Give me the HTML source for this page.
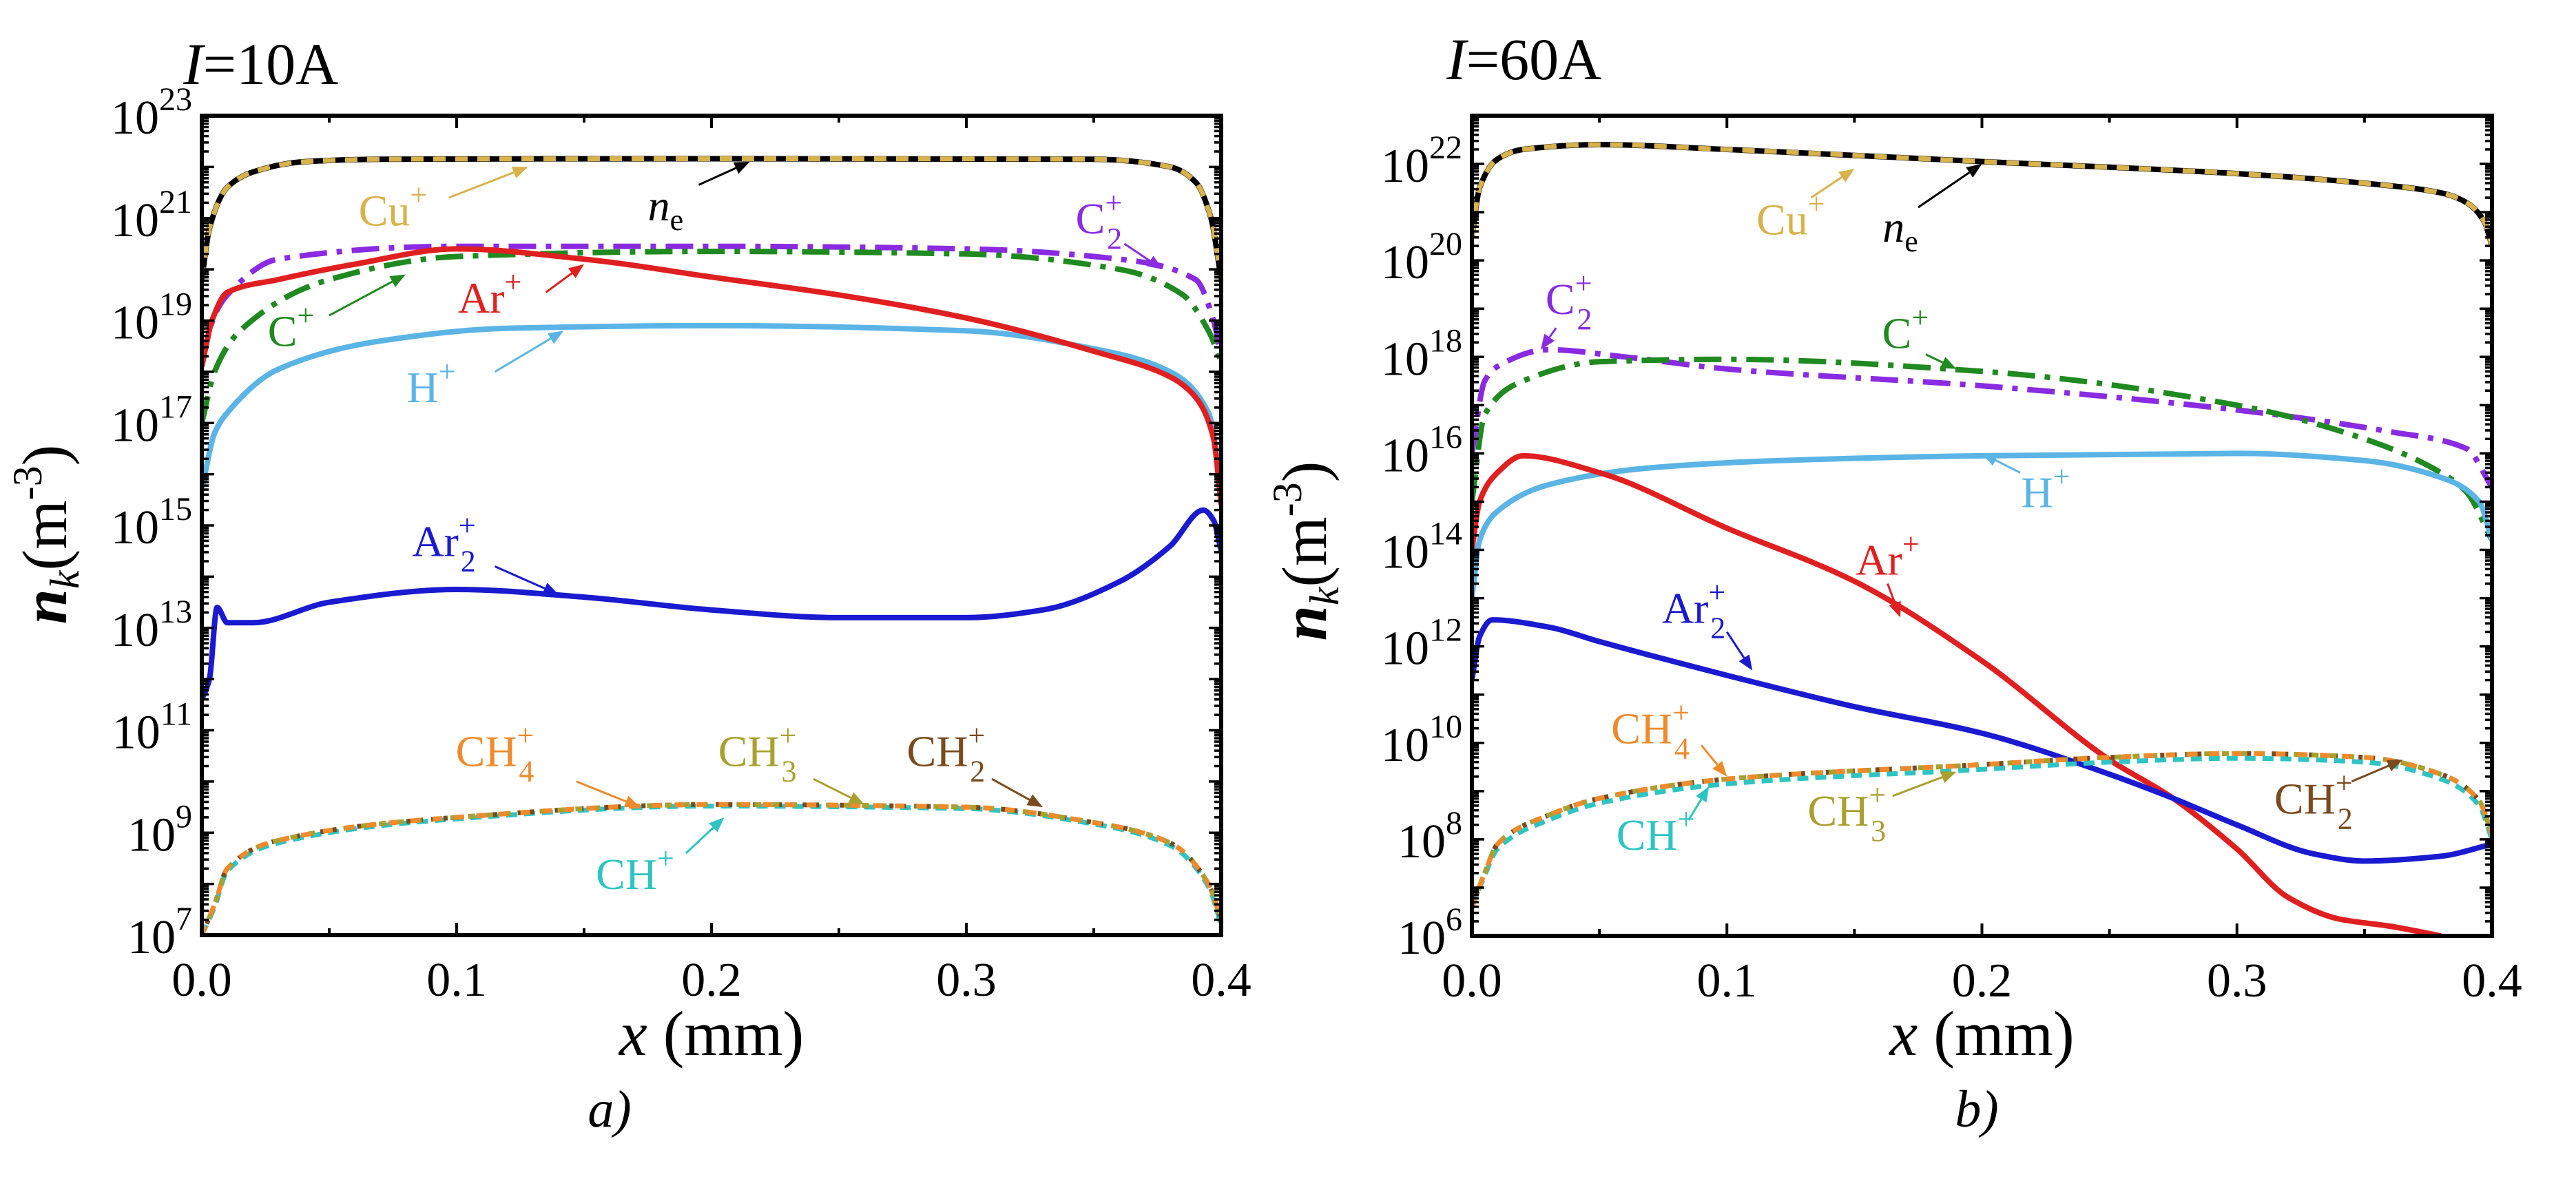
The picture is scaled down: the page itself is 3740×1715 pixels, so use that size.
<!DOCTYPE html>
<html><head><meta charset="utf-8">
<style>
html,body{margin:0;padding:0;background:#fff;}
svg{display:block;}
text{font-family:"Liberation Serif","DejaVu Serif",serif;}
</style></head>
<body>
<svg id="fig" width="3740" height="1715" viewBox="0 0 3740 1715" xmlns="http://www.w3.org/2000/svg">
<rect width="3740" height="1715" fill="#fff"/>
</svg>
<script>
// ---------- Panel a (I=10A) data: x in mm, values as log10(n) ----------
const a_ne_x   = [0,0.003,0.01,0.02,0.04,0.07,0.2,0.35,0.38,0.39,0.396,0.4];
const a_ne_y   = [19.8,20.8,21.6,21.9,22.1,22.15,22.16,22.15,22.0,21.7,21.0,19.8];
const a_c2_x   = [0,0.005,0.01,0.03,0.1,0.2,0.3,0.36,0.39,0.397,0.4];
const a_c2_y   = [18.2,19.1,19.5,20.2,20.45,20.45,20.4,20.2,19.8,19.0,18.3];
const a_c_x    = [0,0.005,0.015,0.05,0.1,0.2,0.3,0.36,0.385,0.395,0.4];
const a_c_y    = [17.0,18.0,18.8,19.8,20.25,20.35,20.3,20.0,19.5,18.8,18.2];
const a_ar_x   = [0,0.004,0.01,0.03,0.06,0.1,0.15,0.2,0.25,0.3,0.35,0.38,0.39,0.397,0.4];
const a_ar_y   = [18.1,19.0,19.55,19.8,20.1,20.4,20.2,19.85,19.5,19.05,18.4,17.9,17.5,16.7,15.4];
const a_h_x    = [0,0.005,0.01,0.03,0.07,0.12,0.2,0.3,0.35,0.38,0.395,0.4];
const a_h_y    = [15.7,16.8,17.2,18.05,18.6,18.85,18.9,18.8,18.45,18.0,17.2,15.9];
const a_ar2_x  = [0,0.003,0.006,0.01,0.02,0.05,0.1,0.15,0.2,0.25,0.3,0.33,0.36,0.38,0.393,0.397,0.4];
const a_ar2_y  = [11.6,12.0,13.4,13.1,13.1,13.5,13.75,13.6,13.35,13.2,13.2,13.35,13.9,14.6,15.3,15.1,14.5];
const a_ch_x   = [0,0.005,0.01,0.03,0.1,0.2,0.3,0.35,0.38,0.395,0.4];
const a_ch4_y  = [7.0,7.6,8.3,8.85,9.3,9.55,9.5,9.2,8.8,8.0,7.3];
const a_ch3_y  = [7.0,7.6,8.3,8.85,9.3,9.55,9.5,9.2,8.8,8.0,7.3];
const a_ch2_y  = [7.0,7.6,8.3,8.85,9.3,9.55,9.5,9.2,8.8,8.0,7.3];
const a_ch1_y  = [7.0,7.55,8.25,8.8,9.27,9.52,9.47,9.17,8.75,7.95,7.2];
// ---------- Panel b (I=60A) ----------
const b_ne_x   = [0,0.003,0.01,0.02,0.05,0.1,0.2,0.3,0.35,0.38,0.39,0.397,0.4];
const b_ne_y   = [20.5,21.5,22.1,22.3,22.4,22.3,22.05,21.8,21.6,21.4,21.2,20.8,20.3];
const b_c2_x   = [0,0.005,0.01,0.03,0.06,0.1,0.2,0.3,0.36,0.39,0.4];
const b_c2_y   = [16.0,17.5,17.8,18.15,18.0,17.75,17.4,16.9,16.45,16.1,15.3];
const b_c_x    = [0,0.005,0.02,0.05,0.1,0.2,0.3,0.35,0.38,0.39,0.4];
const b_c_y    = [15.0,16.8,17.5,17.9,17.95,17.7,17.0,16.3,15.6,15.2,14.2];
const b_ar_x   = [0,0.003,0.01,0.02,0.05,0.1,0.15,0.2,0.25,0.275,0.3,0.32,0.34,0.36,0.38];
const b_ar_y   = [14.0,15.0,15.6,15.95,15.6,14.45,13.35,11.7,9.65,8.85,7.8,6.8,6.35,6.2,6.0];
const b_h_x    = [0,0.003,0.01,0.03,0.07,0.12,0.2,0.3,0.35,0.38,0.395,0.4];
const b_h_y    = [13.0,14.2,14.8,15.35,15.7,15.85,15.95,16.0,15.85,15.5,15.0,14.2];
const b_ar2_x  = [0,0.003,0.008,0.03,0.05,0.1,0.15,0.2,0.25,0.275,0.3,0.33,0.35,0.38,0.4];
const b_ar2_y  = [11.3,12.2,12.55,12.4,12.1,11.4,10.75,10.2,9.35,8.85,8.3,7.7,7.55,7.65,7.9];
const b_ch_x   = [0,0.005,0.01,0.03,0.05,0.1,0.2,0.25,0.3,0.35,0.38,0.395,0.4];
const b_ch4_y  = [6.6,7.3,7.9,8.5,8.85,9.25,9.55,9.7,9.78,9.7,9.35,8.8,8.1];
const b_ch3_y  = [6.6,7.3,7.9,8.5,8.85,9.25,9.55,9.7,9.78,9.7,9.35,8.8,8.1];
const b_ch2_y  = [6.6,7.3,7.9,8.5,8.85,9.25,9.55,9.7,9.78,9.7,9.35,8.8,8.1];
const b_ch1_y  = [6.6,7.25,7.8,8.4,8.75,9.15,9.45,9.6,9.68,9.6,9.25,8.7,8.0];
// ticks
const xTickVals = [0.0,0.1,0.2,0.3,0.4];
const xTickLabels = ["0.0","0.1","0.2","0.3","0.4"];
const a_yLabelExps = [7,9,11,13,15,17,19,21,23];
const b_yLabelExps = [6,8,10,12,14,16,18,20,22];

const NS="http://www.w3.org/2000/svg";
const svg=document.getElementById('fig');
function el(tag,attrs,parent){const e=document.createElementNS(NS,tag);for(const k in attrs)e.setAttribute(k,attrs[k]);(parent||svg).appendChild(e);return e;}

const C={ne:'#000000',cu:'#d8b24a',c2:'#8a2be2',c:'#1f8a1f',ar:'#e02020',h:'#5bb4e6',ar2:'#1a1ad0',
 ch4:'#f08a2a',ch3:'#aaa030',ch2:'#7a4a1e',ch1:'#2ec4c4'};

function makePanel(id,L,R,T,B,ymin,ymax){
  const p={L,R,T,B,ymin,ymax};
  p.sx=x=>L+(x/0.4)*(R-L);
  p.sy=v=>B-(v-ymin)/(ymax-ymin)*(B-T);
  const g=el('g',{});
  
  
  p.g=g;
  const cp=el('clipPath',{id:'clip-'+id},g);
  el('rect',{x:L,y:T,width:R-L,height:B-T},cp);
  p.clip='url(#clip-'+id+')';
  return p;
}
function ticks(p,labelExps){
  const g=el('g',{},p.g);
  
  
  for(let i=0;i<=8;i++){
    const xv=i*0.05, X=p.sx(xv), len=(i%2==0)?18:10;
    el('line',{x1:X,y1:p.B,x2:X,y2:p.B-len,stroke:'#000','stroke-width':4},g);
    el('line',{x1:X,y1:p.T,x2:X,y2:p.T+len,stroke:'#000','stroke-width':4},g);
  }
  for(let d=p.ymin;d<p.ymax;d++){
    for(let m=1;m<=9;m++){
      const v=d+Math.log10(m); const Y=p.sy(v); const len=(m==1)?18:10;
      el('line',{x1:p.L,y1:Y,x2:p.L+len,y2:Y,stroke:'#000','stroke-width':3.5},g);
      el('line',{x1:p.R,y1:Y,x2:p.R-len,y2:Y,stroke:'#000','stroke-width':3.5},g);
    }
  }
  xTickVals.forEach((xv,i)=>{
    const t=el('text',{x:p.sx(xv),y:p.B+88,'font-size':70,'text-anchor':'middle',fill:'#000'},g);
    t.textContent=xTickLabels[i];
    
    
  });
  labelExps.forEach(e=>{
    const Y=p.sy(e);
    const t=el('text',{x:p.L-14,y:Y+26,'font-size':70,'text-anchor':'end',fill:'#000'},g);
    t.innerHTML='10<tspan font-size="48" dy="-34">'+e+'</tspan>';
    
    
  });
  el('rect',{x:p.L,y:p.T,width:p.R-p.L,height:p.B-p.T,fill:'none',stroke:'#000','stroke-width':6},g);
}
// monotone cubic (Fritsch–Carlson) path through screen points
function monoPath(P){
  const n=P.length; if(n<2)return '';
  const dx=[],dy=[],m=[];
  for(let i=0;i<n-1;i++){dx.push(P[i+1][0]-P[i][0]);dy.push(P[i+1][1]-P[i][1]);m.push(dy[i]/dx[i]);}
  const t=[m[0]];
  for(let i=1;i<n-1;i++){ if(m[i-1]*m[i]<=0)t.push(0); else {const w1=2*dx[i]+dx[i-1],w2=dx[i]+2*dx[i-1];t.push((w1+w2)/(w1/m[i-1]+w2/m[i]));}}
  t.push(m[n-2]);
  let d='M'+P[0][0].toFixed(1)+','+P[0][1].toFixed(1);
  for(let i=0;i<n-1;i++){
    const h=dx[i]/3;
    d+=' C'+(P[i][0]+h).toFixed(1)+','+(P[i][1]+t[i]*h).toFixed(1)+' '+(P[i+1][0]-h).toFixed(1)+','+(P[i+1][1]-t[i+1]*h).toFixed(1)+' '+P[i+1][0].toFixed(1)+','+P[i+1][1].toFixed(1);
  }
  return d;
}
function series(p,name,xs,ys,color,dash,width){
  const P=xs.map((x,i)=>[p.sx(x),p.sy(ys[i])]);
  const a={d:monoPath(P),fill:'none',stroke:color,'stroke-width':width||8,'stroke-linejoin':'round','clip-path':p.clip};
  if(dash)a['stroke-dasharray']=dash;
  const l=el('path',a,p.g);
  
  
  return l;
}
function label(p,name,x,v,main,sub,sup,color,ax1,av1,ax2,av2){
  const t=el('text',{x:p.sx(x),y:p.sy(v)+22,'font-size':64,'text-anchor':'middle',fill:color},p.g);
  let h=main;
  if(sup) h+='<tspan font-size="44" dy="-30">'+sup+'</tspan>';
  if(sub) h+='<tspan font-size="44" dx="-22" dy="52">'+sub+'</tspan>';
  t.innerHTML=h;
  
  
  const X1=p.sx(ax1),Y1=p.sy(av1),X2=p.sx(ax2),Y2=p.sy(av2);
  const ang=Math.atan2(Y2-Y1,X2-X1),hl=22,hw=9;
  const bx=X2-hl*Math.cos(ang),by=Y2-hl*Math.sin(ang);
  const ln=el('line',{x1:X1,y1:Y1,x2:bx,y2:by,stroke:color,'stroke-width':3},p.g);
  
  
  const hd=el('polygon',{points:`${X2},${Y2} ${bx+hw*Math.sin(ang)},${by-hw*Math.cos(ang)} ${bx-hw*Math.sin(ang)},${by+hw*Math.cos(ang)}`,fill:color},p.g);
  
  
}
function texts(p,title,tx,ty,ylx,yly,tag,tgx){
  const g=p.g;
  const t=el('text',{x:tx,y:ty,'font-size':86,fill:'#000'},g);
  t.innerHTML='<tspan font-style="italic">I</tspan>='+title;
  
  
  const yt=el('text',{x:0,y:0,'font-size':92,'text-anchor':'middle',fill:'#000',transform:`translate(${ylx},${yly}) rotate(-90)`},g);
  yt.innerHTML='<tspan font-style="italic" font-weight="bold">n</tspan><tspan font-style="italic" font-size="60" dy="18">k</tspan><tspan dy="-18">(m</tspan><tspan font-size="60" dy="-36">-3</tspan><tspan dy="36">)</tspan>';
  
  
  const xt=el('text',{x:(p.L+p.R)/2,y:1532,'font-size':92,'text-anchor':'middle',fill:'#000'},g);
  xt.innerHTML='<tspan font-style="italic">x</tspan> (mm)';
  
  
  const tg=el('text',{x:tgx,y:1636,'font-size':76,'font-style':'italic','text-anchor':'middle',fill:'#000'},g);
  tg.textContent=tag;
  
  
}

// ---- Panel a
const pa=makePanel('panel-a-10A',293,1773,168,1358,7,23);
series(pa,'c2-plus-line',a_c2_x,a_c2_y,C.c2,'40 14 8 14');
series(pa,'c-plus-line',a_c_x,a_c_y,C.c,'40 14 8 14');
series(pa,'h-plus-line',a_h_x,a_h_y,C.h);
series(pa,'ar-plus-line',a_ar_x,a_ar_y,C.ar);
series(pa,'ar2-plus-line',a_ar2_x,a_ar2_y,C.ar2);
series(pa,'ne-line',a_ne_x,a_ne_y,C.ne);
series(pa,'cu-plus-line',a_ne_x,a_ne_y,C.cu,'18 14',7);
series(pa,'ch-plus-line',a_ch_x,a_ch1_y,C.ch1,'16 10',7);
series(pa,'ch2-plus-line',a_ch_x,a_ch2_y,C.ch2,'6 12',7);
series(pa,'ch3-plus-line',a_ch_x,a_ch3_y,C.ch3,'10 16',7);
series(pa,'ch4-plus-line',a_ch_x,a_ch4_y,C.ch4,'14 18',7);
ticks(pa,a_yLabelExps);
label(pa,'cu-plus',0.075,21.15,'Cu','', '+',C.cu,0.097,21.4,0.128,22.0);
label(pa,'ne',0.182,21.25,'<tspan font-style="italic">n</tspan><tspan font-size="44" dy="14">e</tspan>','','',C.ne,0.195,21.65,0.215,22.1);
label(pa,'c2-plus',0.352,21.0,'C','2','+',C.c2,0.362,20.5,0.377,20.0);
label(pa,'ar-plus',0.113,19.45,'Ar','','+',C.ar,0.135,19.55,0.15,20.1);
label(pa,'c-plus',0.035,18.8,'C','','+',C.c,0.05,19.1,0.08,19.9);
label(pa,'h-plus',0.09,17.7,'H','','+',C.h,0.115,18.0,0.142,18.8);
label(pa,'ar2-plus',0.095,14.7,'Ar','2','+',C.ar2,0.115,14.2,0.14,13.65);
label(pa,'ch4-plus',0.115,10.6,'CH','4','+',C.ch4,0.147,10.0,0.172,9.5);
label(pa,'ch3-plus',0.218,10.6,'CH','3','+',C.ch3,0.24,10.05,0.26,9.55);
label(pa,'ch2-plus',0.292,10.6,'CH','2','+',C.ch2,0.31,10.05,0.33,9.5);
label(pa,'ch-plus',0.17,8.2,'CH','','+',C.ch1,0.19,8.6,0.205,9.3);
texts(pa,'10A',266,122,96,776,'a)',885);

// ---- Panel b
const pb=makePanel('panel-b-60A',2137,3618,168,1359,6,23);
series(pb,'c2-plus-line',b_c2_x,b_c2_y,C.c2,'40 14 8 14');
series(pb,'c-plus-line',b_c_x,b_c_y,C.c,'40 14 8 14');
series(pb,'h-plus-line',b_h_x,b_h_y,C.h);
series(pb,'ar-plus-line',b_ar_x,b_ar_y,C.ar);
series(pb,'ar2-plus-line',b_ar2_x,b_ar2_y,C.ar2);
series(pb,'ne-line',b_ne_x,b_ne_y,C.ne);
series(pb,'cu-plus-line',b_ne_x,b_ne_y,C.cu,'18 14',7);
series(pb,'ch-plus-line',b_ch_x,b_ch1_y,C.ch1,'16 10',7);
series(pb,'ch2-plus-line',b_ch_x,b_ch2_y,C.ch2,'6 12',7);
series(pb,'ch3-plus-line',b_ch_x,b_ch3_y,C.ch3,'10 16',7);
series(pb,'ch4-plus-line',b_ch_x,b_ch4_y,C.ch4,'14 18',7);
ticks(pb,b_yLabelExps);
label(pb,'cu-plus',0.125,20.85,'Cu','','+',C.cu,0.133,21.3,0.15,21.9);
label(pb,'ne',0.168,20.7,'<tspan font-style="italic">n</tspan><tspan font-size="44" dy="14">e</tspan>','','',C.ne,0.175,21.1,0.2,22.0);
label(pb,'c2-plus',0.038,19.2,'C','2','+',C.c2,0.033,18.6,0.027,18.15);
label(pb,'c-plus',0.17,18.5,'C','','+',C.c,0.178,18.05,0.19,17.75);
label(pb,'h-plus',0.225,15.2,'H','','+',C.h,0.215,15.6,0.2,16.0);
label(pb,'ar-plus',0.163,13.8,'Ar','','+',C.ar,0.163,13.3,0.168,12.6);
label(pb,'ar2-plus',0.087,12.8,'Ar','2','+',C.ar2,0.1,12.3,0.11,11.5);
label(pb,'ch4-plus',0.07,10.3,'CH','4','+',C.ch4,0.09,9.95,0.1,9.3);
label(pb,'ch-plus',0.072,8.1,'CH','','+',C.ch1,0.085,8.4,0.093,9.1);
label(pb,'ch3-plus',0.147,8.6,'CH','3','+',C.ch3,0.165,8.9,0.19,9.4);
label(pb,'ch2-plus',0.33,8.85,'CH','2','+',C.ch2,0.345,9.2,0.365,9.65);
texts(pb,'60A',2100,115,1925,800,'b)',2870);
</script>
</body></html>
